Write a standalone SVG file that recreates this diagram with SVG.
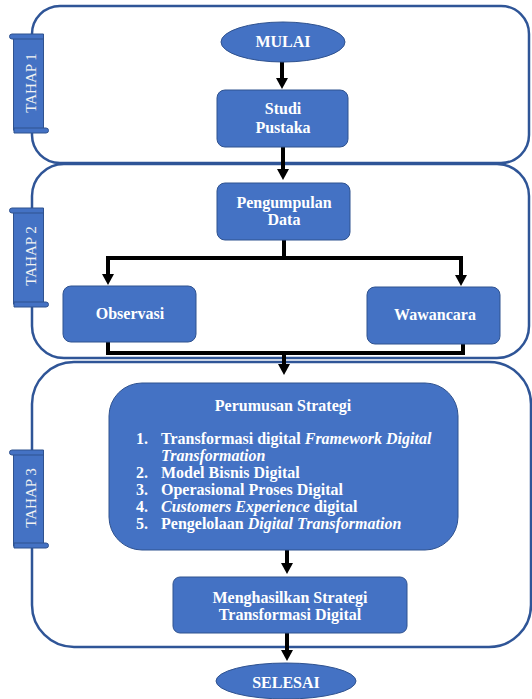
<svg xmlns="http://www.w3.org/2000/svg" width="532" height="699" viewBox="0 0 532 699">
<style>
.sec{fill:none;stroke:#2F5597;stroke-width:2.5}
.box{fill:#4472C4;stroke:#2F528F;stroke-width:1}
.lbl{font-family:"Liberation Serif","Times New Roman",serif;font-weight:bold;font-size:16px;fill:#FFFFFF;text-anchor:middle}
.lst{font-family:"Liberation Serif","Times New Roman",serif;font-weight:bold;font-size:16px;fill:#FFFFFF}
.tah{font-family:"Liberation Serif","Times New Roman",serif;font-size:15px;fill:#F2F2F2;text-anchor:middle}
.con{fill:none;stroke:#000000;stroke-width:4;marker-end:url(#ah)}
.ln{fill:none;stroke:#000000;stroke-width:4}
</style>
<defs>
<marker id="ah" viewBox="0 0 11 12" refX="0" refY="6" markerWidth="11" markerHeight="12" markerUnits="userSpaceOnUse" orient="auto">
<path d="M0,0 L11,6 L0,12 z" fill="#000000"/>
</marker>
</defs>
<rect fill="#FFFFFF" x="0" y="0" width="532" height="699"/>

<g id="sections">
<rect class="sec" x="32" y="6" width="497" height="157" rx="28"/>
<rect class="sec" x="32" y="164" width="497" height="194" rx="32"/>
<rect class="sec" x="32" y="362" width="499" height="285" rx="42"/>
</g>

<g id="tahap1">
<rect class="box" x="13.5" y="36" width="30" height="94"/>
<path class="box" d="M12,34 H43.5 V39 H12 A2.5,2.5 0 0 1 12,34 Z"/>
<path class="box" d="M14,128 H46 A2.5,2.5 0 0 1 46,133 H14 Z"/>
<text class="tah" x="36" y="83" transform="rotate(-90 36 83)">TAHAP 1</text>
</g>
<g id="tahap2">
<rect class="box" x="13.5" y="210" width="30" height="94"/>
<path class="box" d="M12,208 H43.5 V213 H12 A2.5,2.5 0 0 1 12,208 Z"/>
<path class="box" d="M14,302 H46 A2.5,2.5 0 0 1 46,307 H14 Z"/>
<text class="tah" x="36" y="256" transform="rotate(-90 36 256)">TAHAP 2</text>
</g>
<g id="tahap3">
<rect class="box" x="13.5" y="452" width="30" height="94"/>
<path class="box" d="M12,450 H43.5 V455 H12 A2.5,2.5 0 0 1 12,450 Z"/>
<path class="box" d="M14,543 H46 A2.5,2.5 0 0 1 46,548 H14 Z"/>
<text class="tah" x="36" y="498" transform="rotate(-90 36 498)">TAHAP 3</text>
</g>

<g id="connectors">
<path class="con" d="M282,62 V78"/>
<path class="con" d="M283,147 V169"/>
<path class="con" d="M284,240 V258 H108 V274"/>
<path class="con" d="M284,258 H461 V275"/>
<path class="ln" d="M108,342 V353 H463 V344"/>
<path class="con" d="M284,353 V364"/>
<path class="con" d="M287,550 V563"/>
<path class="con" d="M287,633 V650"/>
</g>

<g id="mulai">
<ellipse class="box" cx="283" cy="42" rx="62" ry="20"/>
<text class="lbl" x="283" y="47">MULAI</text>
</g>
<g id="studi">
<rect class="box" x="217" y="90" width="131" height="57" rx="8"/>
<text class="lbl" x="283" y="114">Studi</text>
<text class="lbl" x="283" y="133">Pustaka</text>
</g>
<g id="pengumpulan">
<rect class="box" x="217" y="183" width="133" height="57" rx="8"/>
<text class="lbl" x="284" y="208">Pengumpulan</text>
<text class="lbl" x="284" y="225">Data</text>
</g>
<g id="observasi">
<rect class="box" x="63" y="286" width="133" height="56" rx="8"/>
<text class="lbl" x="130" y="319">Observasi</text>
</g>
<g id="wawancara">
<rect class="box" x="367" y="287" width="133" height="57" rx="8"/>
<text class="lbl" x="435" y="320">Wawancara</text>
</g>
<g id="perumusan">
<rect class="box" x="109" y="383" width="349" height="167" rx="33"/>
<text class="lbl" x="283" y="411">Perumusan Strategi</text>
<text class="lst" x="136" y="444">1.</text>
<text class="lst" x="161" y="444">Transformasi digital <tspan font-style="italic">Framework Digital</tspan></text>
<text class="lst" x="161" y="461" font-style="italic">Transformation</text>
<text class="lst" x="136" y="478">2.</text>
<text class="lst" x="161" y="478">Model Bisnis Digital</text>
<text class="lst" x="136" y="495">3.</text>
<text class="lst" x="161" y="495">Operasional Proses Digital</text>
<text class="lst" x="136" y="512">4.</text>
<text class="lst" x="161" y="512"><tspan font-style="italic">Customers Experience</tspan> digital</text>
<text class="lst" x="136" y="529">5.</text>
<text class="lst" x="161" y="529">Pengelolaan <tspan font-style="italic">Digital Transformation</tspan></text>
</g>
<g id="menghasilkan">
<rect class="box" x="173" y="577" width="234" height="56" rx="7"/>
<text class="lbl" x="290" y="603">Menghasilkan Strategi</text>
<text class="lbl" x="290" y="620">Transformasi Digital</text>
</g>
<g id="selesai">
<ellipse class="box" cx="286" cy="681" rx="70" ry="18"/>
<text class="lbl" x="286" y="688">SELESAI</text>
</g>
</svg>
